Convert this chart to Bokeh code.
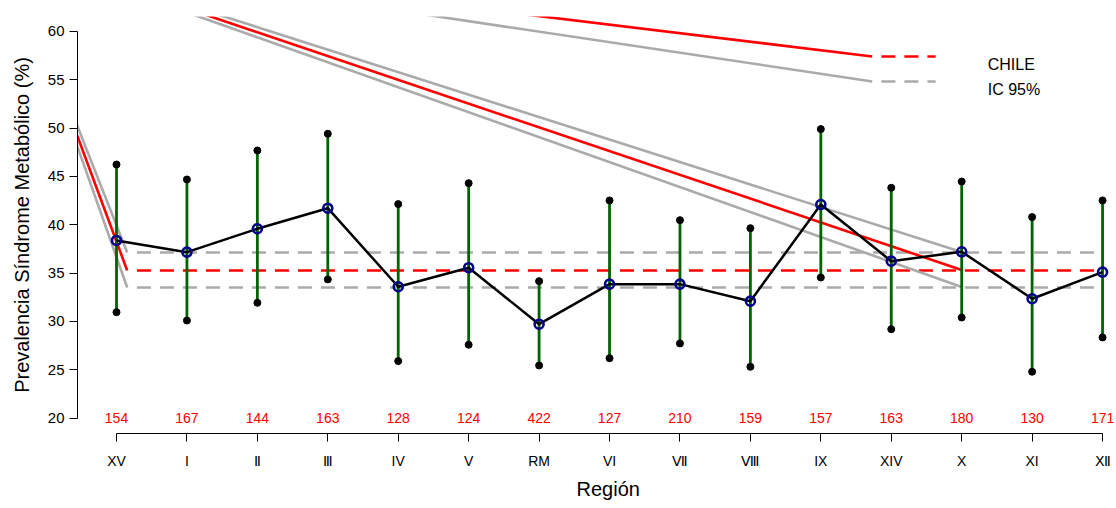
from bokeh.plotting import figure
from bokeh.models import Range1d, FixedTicker, Label, ColumnDataSource, Title
from bokeh.core.properties import value
from bokeh.embed import file_html
from bokeh.resources import INLINE

# ---- data ----
regions = ["XV", "I", "Ⅱ", "Ⅲ", "IV", "V", "RM", "VI", "Ⅶ", "Ⅷ", "IX", "XIV", "X", "XI", "Ⅻ"]
n_obs = [154, 167, 144, 163, 128, 124, 422, 127, 210, 159, 157, 163, 180, 130, 171]
prev_mean = [38.38, 37.17, 39.59, 41.72, 33.59, 35.56, 29.72, 33.86, 33.86, 32.10, 42.10, 36.24, 37.21, 32.35, 35.10]
prev_upper = [46.24, 44.69, 47.69, 49.42, 42.14, 44.31, 34.17, 42.52, 40.48, 39.65, 49.90, 43.83, 44.48, 40.80, 42.52]
prev_lower = [30.96, 30.10, 31.93, 34.35, 25.90, 27.59, 25.45, 26.20, 27.73, 25.31, 34.55, 29.20, 30.41, 24.80, 28.35]

chile = 35.28
ic_low = 33.52
ic_high = 37.14

# reference-line traces (as drawn in the original: ic_high, chile, ic_low)
ref_levels = [ic_high, chile, ic_low]
ref_colors = ["#AAAAAA", "#FF0000", "#AAAAAA"]
seg1_x = [0.40, 1.152]
seg1_y0 = [51.05, 50.05, 49.03]
seg2_x0 = [1.472, 1.340, 1.216]
seg2_x1 = 13.02
seg2_y0 = 64.0
dash_x = [1.29, 15.0]

# legend traces
leg_labels = ["CHILE", "IC 95%"]
leg_colors = ["#FF0000", "#AAAAAA"]
leg_x0 = [4.27, 3.31]
leg_y0 = [64.0, 64.0]
leg_x1 = 11.73
leg_y = [57.41, 54.83]
leg_dash_x = [11.86, 12.63]
leg_text_x = 13.37
leg_text_y = [56.62, 54.03]

xs = list(range(1, len(regions) + 1))
FONT = "Liberation Sans"

p = figure(width=1116, height=508,
           x_range=Range1d(0.4463, 15.198), y_range=Range1d(18.41, 61.55),
           output_backend="svg", toolbar_location=None,
           min_border_left=77, min_border_right=0, min_border_top=16, min_border_bottom=75)
p.outline_line_color = None
p.xgrid.grid_line_color = None
p.ygrid.grid_line_color = None
p.background_fill_color = "white"
p.border_fill_color = "white"

# reference lines
for lvl, col, y0, x0 in zip(ref_levels, ref_colors, seg1_y0, seg2_x0):
    p.line([seg1_x[0], seg1_x[1]], [y0, lvl], line_color=col, line_width=2.6)
    p.line([x0, seg2_x1], [seg2_y0, lvl], line_color=col, line_width=2.6)
    p.line(dash_x, [lvl, lvl], line_color=col, line_width=2.6, line_dash="14 9")

# legend lines and text
for lbl, col, x0, y0, yy, ty in zip(leg_labels, leg_colors, leg_x0, leg_y0, leg_y, leg_text_y):
    p.line([x0, leg_x1], [y0, yy], line_color=col, line_width=2.6)
    p.line(leg_dash_x, [yy, yy], line_color=col, line_width=2.6, line_dash="14 9")
    p.add_layout(Label(x=leg_text_x, y=ty, text=lbl, text_font=FONT, text_font_size="16px",
                       text_color="#000000", text_align="left", text_baseline="alphabetic"))

src = ColumnDataSource(dict(x=xs, m=prev_mean, lo=prev_lower, hi=prev_upper,
                            n=[str(v) for v in n_obs], ny=[20] * len(xs)))

p.segment(x0="x", y0="lo", x1="x", y1="hi", source=src, line_color="#006400", line_width=2.8)
p.scatter(x="x", y="hi", source=src, size=7, color="black")
p.scatter(x="x", y="lo", source=src, size=7, color="black")
p.line(x="x", y="m", source=src, line_color="black", line_width=2.5)
p.scatter(x="x", y="m", source=src, marker="circle", size=9, fill_color=None,
          line_color="#00008B", line_width=2.6)

p.text(x="x", y="ny", text="n", source=src, text_color="#FF0000", text_font=value(FONT),
       text_font_size="14px", text_align="center", text_baseline="middle")

# axes
xa = p.xaxis[0]
xa.bounds = (1, 15)
xa.ticker = FixedTicker(ticks=xs)
xa.major_label_overrides = {i: r for i, r in zip(xs, regions)}
xa.minor_tick_line_color = None
xa.major_tick_in = 0
xa.major_tick_out = 8
xa.major_label_standoff = 11
xa.major_label_text_font = FONT
xa.major_label_text_font_size = "14px"
xa.major_label_text_color = "black"
xa.axis_line_color = "black"
xa.major_tick_line_color = "black"

ya = p.yaxis[0]
ya.bounds = (20, 60)
ya.ticker = FixedTicker(ticks=[20, 25, 30, 35, 40, 45, 50, 55, 60])
ya.minor_tick_line_color = None
ya.major_tick_in = 0
ya.major_tick_out = 8
ya.major_label_standoff = 5
ya.major_label_orientation = "horizontal"
ya.major_label_text_font = FONT
ya.major_label_text_font_size = "15px"
ya.major_label_text_color = "black"
ya.axis_line_color = "black"
ya.major_tick_line_color = "black"
ya.axis_label = "Prevalencia Síndrome Metabólico (%)"
ya.axis_label_text_font = FONT
ya.axis_label_text_font_size = "20px"
ya.axis_label_text_font_style = "normal"
ya.axis_label_text_color = "black"
ya.axis_label_standoff = 12

p.add_layout(Title(text="Región", align="left", offset=499, text_font=FONT,
                   text_font_size="20px", text_font_style="normal", text_color="black",
                   standoff=8), "below")

open("out.html", "w").write(file_html(p, INLINE))
